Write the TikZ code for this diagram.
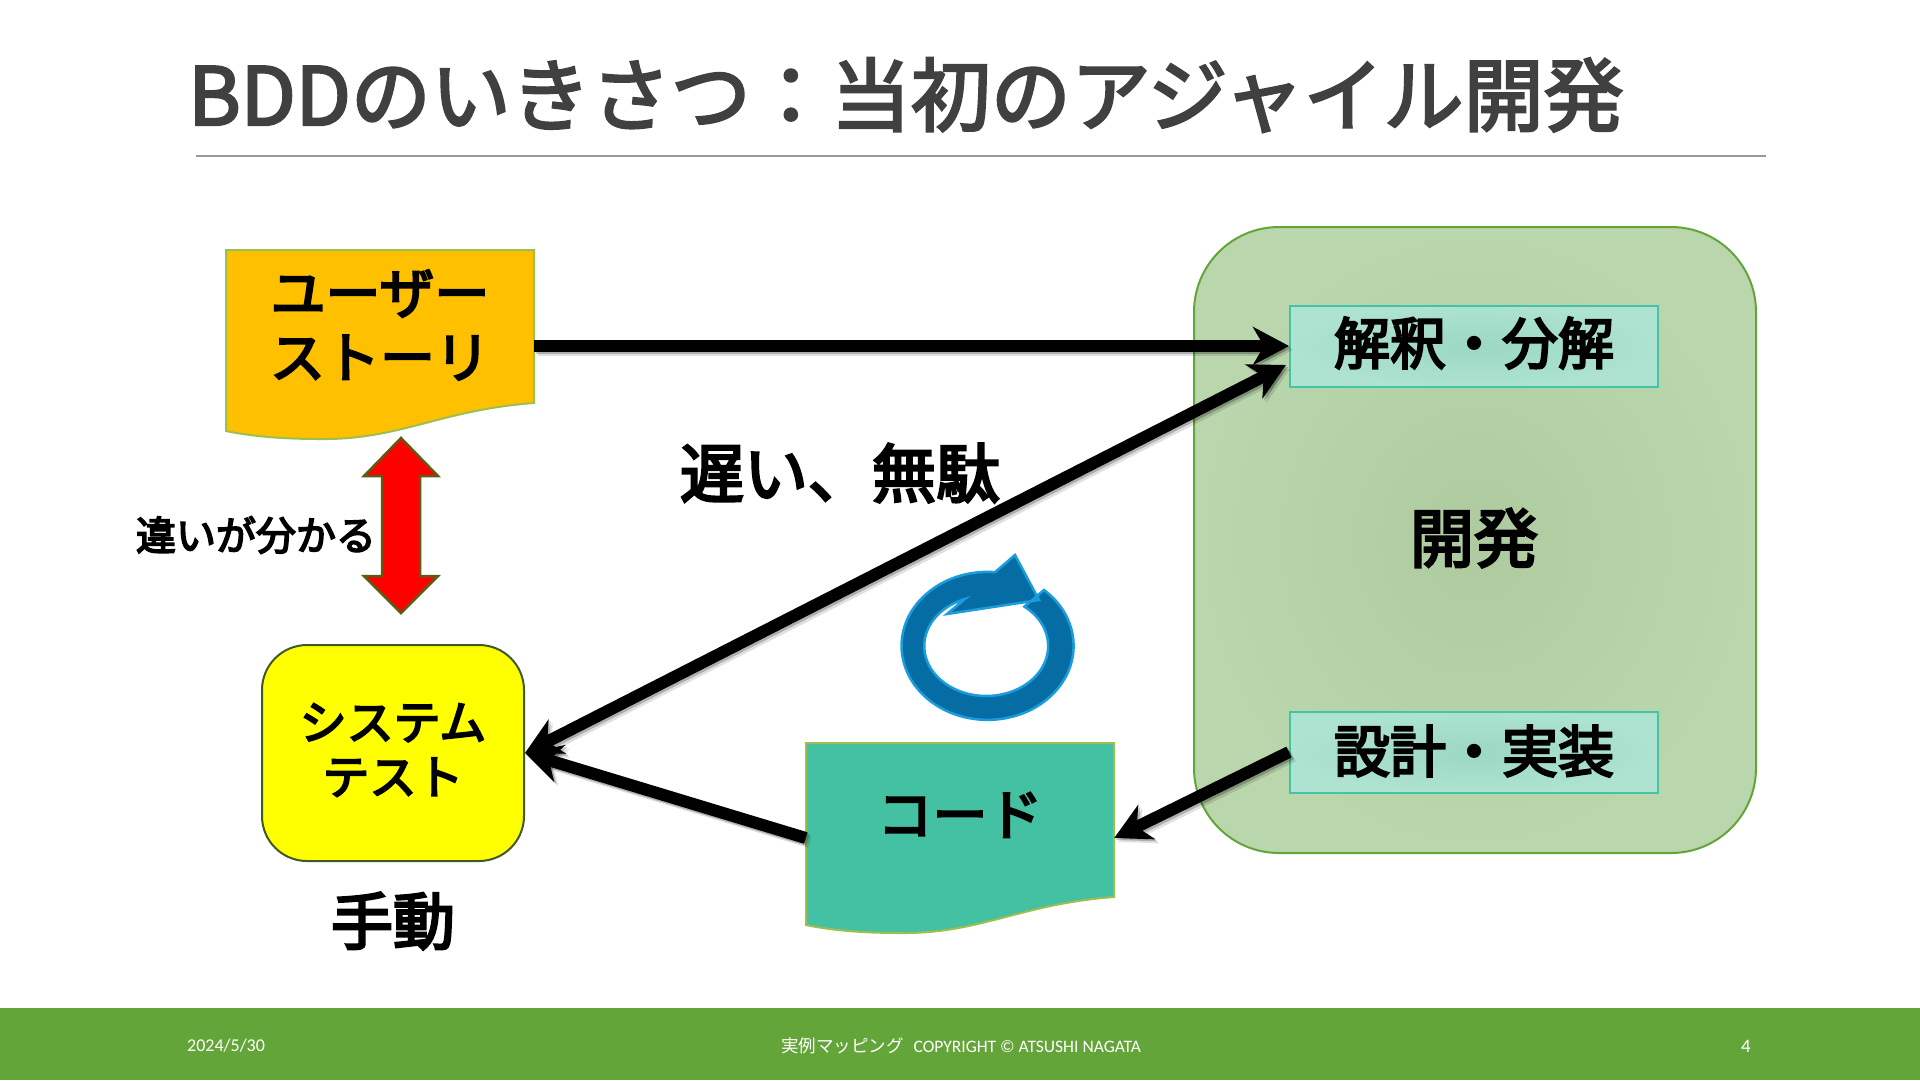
\documentclass[tikz,border=0pt]{standalone}
\usepackage{fontspec}
\setmainfont{Noto Sans CJK JP}
\newfontfamily\boldcjk[FakeBold=4]{Noto Sans CJK JP}
\newfontfamily\titlecjk[FakeBold=3]{Noto Sans CJK JP}
\newfontfamily\regcjk{Noto Sans CJK JP}
\newfontfamily\footlatin{Carlito}
\usetikzlibrary{arrows.meta}
\newcommand{\myfs}[1]{\fontsize{#1}{#1}\selectfont}
\definecolor{titlegray}{HTML}{404040}
\definecolor{footgreen}{HTML}{64A539}
\definecolor{docline}{HTML}{9BC04F}
\definecolor{tealmid}{HTML}{9CD8C5}
\definecolor{tealedge}{HTML}{ADE3D0}
\definecolor{tealline}{HTML}{45C4A5}
\definecolor{devmid}{HTML}{AECBA0}
\definecolor{devedge}{HTML}{BAD6AD}
\definecolor{storyfill}{HTML}{FFC000}
\definecolor{codefill}{HTML}{44C1A3}
\definecolor{sysfill}{HTML}{FFFF00}
\definecolor{sysline}{HTML}{3F5A28}
\definecolor{redfill}{HTML}{FF0000}
\definecolor{redline}{HTML}{5F5A14}
\definecolor{ringfill}{HTML}{066CA4}
\definecolor{ringline}{HTML}{1A9CDD}
\tikzset{
  x=1pt,y=-1pt,
  boldtext/.style={font=\boldcjk, text=black, align=center, inner sep=0pt},
  anchorbox/.style={inner sep=0pt, minimum width=308pt, minimum height=192pt},
  tealbox/.style={draw=tealline, line width=2pt, inner color=tealmid, outer color=tealedge, minimum width=368pt, minimum height=81pt, inner sep=0pt},
  conn/.style={line width=12pt, draw=black},
  tipend/.style={-{Stealth[length=36pt,width=38pt,inset=11pt]}},
  tipboth/.style={{Stealth[length=36pt,width=38pt,inset=11pt]}-{Stealth[length=36pt,width=38pt,inset=11pt]}},
  shadowed/.style={draw=black, opacity=.22, transform canvas={xshift=2pt,yshift=-2pt}},
  shadowfar/.style={draw=black, opacity=.12, transform canvas={xshift=4pt,yshift=-4pt}},
  footer/.style={text=white, inner sep=0pt}
}
\begin{document}
\begin{tikzpicture}
\useasboundingbox (0,0) rectangle (1920,1080);
\fill[white] (0,0) rectangle (1920,1080);
% title
\node[anchor=west, text=titlegray, font=\titlecjk, inner sep=0pt] (title) at (188,95) {\myfs{80}BDDのいきさつ^^^^ff1a当初のアジャイル開発};
\coordinate (ruleL) at (196,156); \coordinate (ruleR) at (1766,156);
\draw[gray!80, line width=1.3pt] (ruleL) -- (ruleR);
% footer
\fill[footgreen] (0,1008) rectangle (1920,1080);
\node[footer, anchor=west] (fdate) at (187,1046) {\footlatin\myfs{18}2024/5/30};
\node[footer] (fmid) at (961,1046) {\regcjk\myfs{17.5}実例マッピング\hspace{10pt}{\footlatin COPYRIGHT © ATSUSHI NAGATA}};
\node[footer] (fpage) at (1746,1046) {\footlatin\myfs{19}4};
% development block
\node[draw=footgreen, line width=2pt, inner color=devmid, outer color=devedge, rounded corners=85pt, minimum width=562pt, minimum height=626pt, inner sep=0pt] (dev) at (1475,540) {};
\node[boldtext] (devt) at (1474,538) {\myfs{64}開発};
\node[tealbox] (interp) at (1474,346) {};
\node[boldtext] (interpt) at (1474,343) {\myfs{56}解釈・分解};
\node[tealbox] (design) at (1474,752) {};
\node[boldtext] (designt) at (1474,751) {\myfs{56}設計・実装};
% story document
\fill[storyfill, draw=docline, line width=2pt] (226,250) -- (534,250) -- (534,403) .. controls (440,410) and (400,440) .. (320,439) .. controls (280,439) and (250,436) .. (226,431) -- cycle;
\node[anchorbox] (story) at (380,346) {};
\node[boldtext] (storyt) at (380,325) {\myfs{55}ユーザー\\[17pt]\myfs{55}ストーリ};
% code document
\fill[codefill, draw=docline, line width=2pt] (806,743) -- (1114,743) -- (1114,897) .. controls (1020,904) and (980,934) .. (900,933) .. controls (860,933) and (830,930) .. (806,925) -- cycle;
\node[anchorbox] (code) at (960,838) {};
\node[boldtext] (codet) at (960,815) {\myfs{55}コード};
% system test
\node[draw=sysline, line width=2pt, fill=sysfill, rounded corners=45pt, minimum width=262pt, minimum height=216pt, inner sep=0pt] (sys) at (393,753) {};
\node[boldtext] (syst) at (393,750) {\myfs{47}システム\\[15pt]\myfs{47}テスト};
\node[boldtext] (manual) at (393,921) {\myfs{62}手動};
% labels
\node[boldtext] (slow) at (840,473) {\myfs{64}遅い、無駄};
\node[boldtext] (diff) at (256,535) {\myfs{40}違いが分かる};
% red double arrow
\fill[redfill, draw=redline, line width=2.5pt] (401,438) -- (438,476) -- (420,476) -- (420,576) -- (438,576) -- (401,613) -- (364,576) -- (382,576) -- (382,476) -- (364,476) -- cycle;
% cycle arrow
\fill[ringfill, draw=ringline, line width=2.5pt] (1044,590) arc[x radius=86pt, y radius=74pt, start angle=49, end angle=-275] -- (1015,555) -- (1039,600) -- (947,614) -- (965,599) arc[x radius=62pt, y radius=50pt, start angle=110, end angle=412] -- cycle;
% connectors
\coordinate (btip) at (1286,365);
\draw[conn,tipend,shadowfar] (story.east) -- (interp.west);
\draw[conn,tipboth,shadowfar] (sys.east) -- (btip);
\draw[conn,tipend,shadowfar] (code.west) -- (sys.east);
\draw[conn,tipend,shadowfar] (design.west) -- (code.east);
\draw[conn,tipend,shadowed] (story.east) -- (interp.west);
\draw[conn,tipboth,shadowed] (sys.east) -- (btip);
\draw[conn,tipend,shadowed] (code.west) -- (sys.east);
\draw[conn,tipend,shadowed] (design.west) -- (code.east);
\draw[conn,tipend] (story.east) -- (interp.west);
\draw[conn,tipboth] (sys.east) -- (btip);
\draw[conn,tipend] (code.west) -- (sys.east);
\draw[conn,tipend] (design.west) -- (code.east);
\end{tikzpicture}
\end{document}
